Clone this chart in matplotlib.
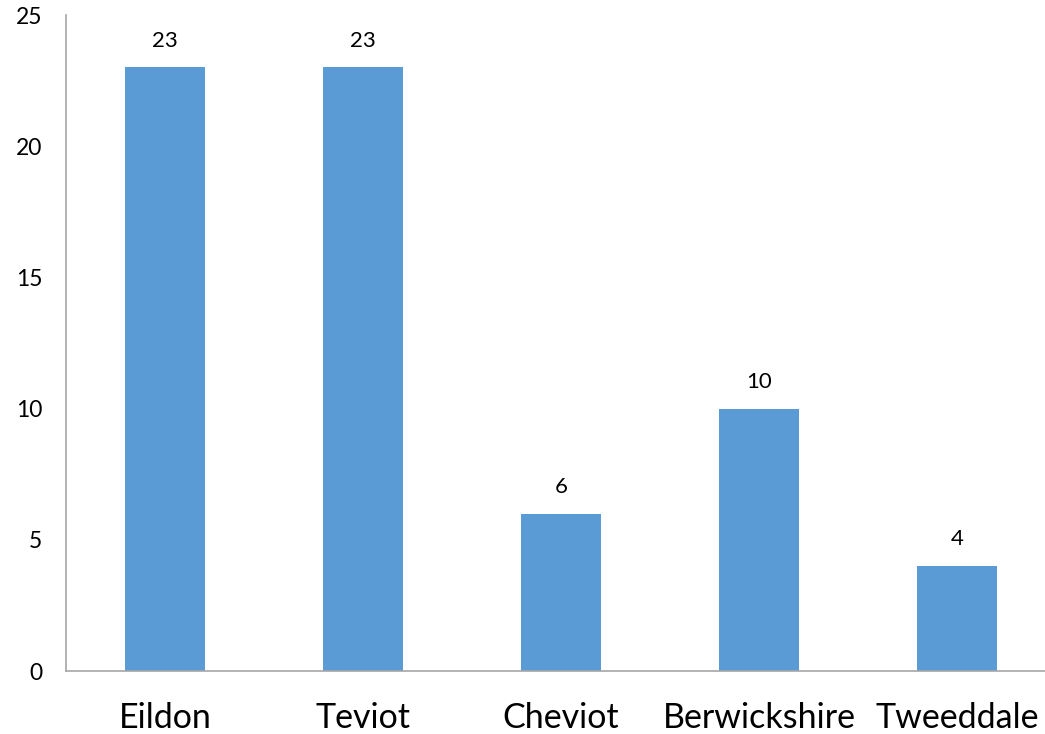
import matplotlib.pyplot as plt

areas = ['Eildon', 'Teviot', 'Cheviot', 'Berwickshire', 'Tweeddale']
counts = [23, 23, 6, 10, 4]
y_ticks = [0, 5, 10, 15, 20, 25]

plt.rcParams['font.family'] = ['Lato', 'DejaVu Sans']

fig = plt.figure(figsize=(10.45, 7.34), dpi=100)
ax = fig.add_axes([66 / 1045, 63 / 734, 990 / 1045, 656 / 734])

bars = ax.bar(range(len(areas)), counts, width=0.404, color='#5B9BD5')
ax.bar_label(bars, labels=[str(c) for c in counts], padding=12, fontsize=16)

ax.set_xlim(-0.5, len(areas) - 0.5)
ax.set_ylim(0, 25)
ax.set_yticks(y_ticks)
ax.set_xticks(range(len(areas)))
ax.set_xticklabels(areas, fontsize=24.5)
ax.tick_params(axis='y', length=0, pad=17, labelsize=16.5)
ax.tick_params(axis='x', length=0, pad=22)

for s in ['top', 'right']:
    ax.spines[s].set_visible(False)
for s in ['left', 'bottom']:
    ax.spines[s].set_color('#a6a6a6')
    ax.spines[s].set_linewidth(1.2)

fig.savefig('out.png', dpi=100)
